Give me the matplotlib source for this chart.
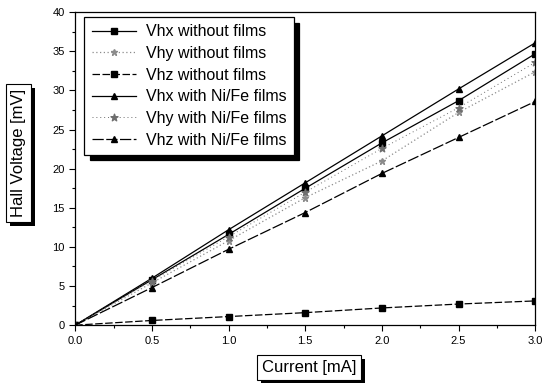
import matplotlib
matplotlib.use("Agg")
import matplotlib.pyplot as plt
import matplotlib.patheffects as pe
from matplotlib.ticker import MultipleLocator

# ------------------------------------------------------------
# Data
# ------------------------------------------------------------
current = [0.0, 0.5, 1.0, 1.5, 2.0, 2.5, 3.0]

vhx_without = [0.0, 5.8, 11.6, 17.5, 23.3, 28.7, 34.7]
vhy_without = [0.0, 5.4, 10.8, 16.3, 21.0, 27.2, 32.4]
vhz_without = [0.0, 0.6, 1.1, 1.6, 2.2, 2.7, 3.1]
vhx_nife    = [0.0, 6.0, 12.2, 18.2, 24.2, 30.2, 36.1]
vhy_nife    = [0.0, 5.7, 11.3, 17.0, 22.6, 27.8, 33.6]
vhz_nife    = [0.0, 4.8, 9.7, 14.4, 19.4, 24.0, 28.6]

labels = ["Vhx without films", "Vhy without films", "Vhz without films",
          "Vhx with Ni/Fe films", "Vhy with Ni/Fe films", "Vhz with Ni/Fe films"]

plt.rcParams["font.family"] = ["Liberation Sans", "DejaVu Sans"]

fig = plt.figure(figsize=(5.53, 3.83), dpi=100)
ax = fig.add_axes([0.136, 0.151, 0.832, 0.817])

ax.plot(current, vhx_without, color="black", lw=0.9, marker="s", ms=4, label=labels[0])
ax.plot(current, vhy_without, color="#8c8c8c", lw=0.9, ls=(0, (1, 2)), marker="*", ms=5, label=labels[1])
ax.plot(current, vhz_without, color="black", lw=0.9, ls=(0, (6, 2)), marker="s", ms=4, label=labels[2])
ax.plot(current, vhx_nife, color="black", lw=0.9, marker="^", ms=5, label=labels[3])
ax.plot(current, vhy_nife, color="#6e6e6e", lw=0.7, ls=(0, (1, 3)), marker="$\\star$", ms=5, label=labels[4])
ax.plot(current, vhz_nife, color="black", lw=0.9, ls=(0, (9, 2)), marker="^", ms=5, label=labels[5])

ax.set_xlim(0, 3.0)
ax.set_ylim(0, 40)
ax.xaxis.set_major_locator(MultipleLocator(0.5))
ax.xaxis.set_minor_locator(MultipleLocator(0.25))
ax.yaxis.set_major_locator(MultipleLocator(5))
ax.yaxis.set_minor_locator(MultipleLocator(2.5))
ax.set_xticklabels(["%.1f" % v for v in ax.get_xticks()])
ax.tick_params(which="both", direction="out", labelsize=8, width=0.8)
ax.tick_params(which="major", length=4)
ax.tick_params(which="minor", length=2)
for s in ax.spines.values():
    s.set_linewidth(0.9)

shadow = [pe.SimplePatchShadow(offset=(3, -3), shadow_rgbFace="black", alpha=1), pe.Normal()]

xl = ax.set_xlabel("Current [mA]", fontsize=12,
                   bbox=dict(boxstyle="square,pad=0.3", fc="white", ec="black", lw=0.8))
xl.get_bbox_patch().set_path_effects(shadow)
ax.xaxis.set_label_coords(0.508, -0.11)
yl = ax.set_ylabel("Hall Voltage [mV]", fontsize=12,
                   bbox=dict(boxstyle="square,pad=0.3", fc="white", ec="black", lw=0.8))
yl.get_bbox_patch().set_path_effects(shadow)
ax.yaxis.set_label_coords(-0.108, 0.55)

leg = ax.legend(loc="upper left", bbox_to_anchor=(0.02, 0.985), fontsize=11.5,
                frameon=True, fancybox=False, handlelength=2.8, labelspacing=0.42,
                borderpad=0.45, handletextpad=0.6, borderaxespad=0, edgecolor="black",
                shadow={"ox": 4, "oy": -4, "color": "black", "alpha": 1})
leg.get_frame().set_linewidth(0.9)
leg.get_frame().set_alpha(1)

fig.savefig("out.png", dpi=100)
